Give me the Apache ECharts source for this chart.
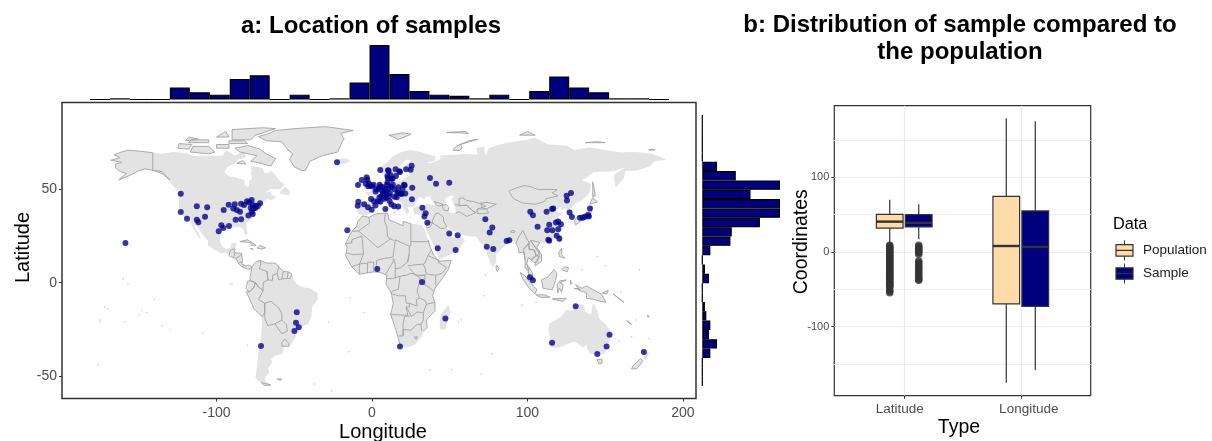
<!DOCTYPE html>
<html><head><meta charset="utf-8">
<style>html,body{margin:0;padding:0;background:#fff}#c{width:1212px;height:441px}</style>
<script src="https://cdn.jsdelivr.net/npm/echarts@6/dist/echarts.min.js"></script>
</head><body><div id="c"></div>
<script>
// ---------- data: land (lon, lat) ----------
const northAmerica=[[-168,65.6],[-164,66.5],[-162,67],[-166,68.5],[-163,69.5],[-157,71],[-150,70.5],[-141,69.6],[-135,69],[-128,70],[-120,69.5],[-115,68],[-108,68],[-100,68],[-96,68],[-94,71],[-90,69],[-88,68],[-85,69.5],[-82,69.5],[-81,67],[-86,66],[-88,64],[-93,62],[-95,59],[-92,57],[-88,56.5],[-85,55.5],[-82,55],[-82,52.5],[-80,51.3],[-79,52],[-79,54.5],[-77,56],[-78,58.5],[-77.5,60],[-78,62.5],[-73,62],[-70,61],[-69.5,59],[-67,58.5],[-65,60],[-62,57.5],[-60,55],[-56,52.5],[-59,50],[-65,50.2],[-69,48],[-65,49],[-64.5,47],[-61,46],[-64,44.5],[-66,44],[-67,45],[-70,43.5],[-70,41.7],[-74,40.5],[-75.5,38],[-76,35],[-78,33.8],[-81,31.5],[-80.2,27],[-80.4,25.2],[-81.8,26],[-83,29],[-85,29.7],[-89,30],[-90,29],[-94,29.5],[-97,28],[-97.5,25],[-97.8,22],[-96,19],[-94,18],[-91,18.7],[-90.5,21],[-87,21.5],[-88,18],[-88.8,16],[-84,15.8],[-83.3,12],[-83.7,10],[-81,8.9],[-79.5,9.5],[-77.3,8.5],[-78,7.3],[-80,7.3],[-83,8.2],[-85.5,10],[-87.5,13],[-91,14],[-94,16],[-97,15.8],[-101,17.5],[-105.5,20],[-105.5,22.5],[-109,26],[-112.5,30],[-114.7,31.5],[-112,27],[-109.5,23],[-112,25],[-115,29],[-117,32.5],[-120.5,34.5],[-122.5,37.5],[-124.3,40.5],[-124,46],[-124.7,48.4],[-122.5,49],[-127,51],[-130.5,54.5],[-134,58],[-140,60],[-146,61],[-150,60],[-152,59],[-157,57],[-163,55],[-158,58.5],[-162,59.5],[-165,61.5],[-165,63.5],[-161,64.5]];
const southAmerica=[[-77.3,8.5],[-75,11],[-72,12],[-70,11.5],[-68,10.5],[-62,10.5],[-60,8.5],[-57,6],[-52,5],[-50,1],[-48,-1],[-44,-2.5],[-40,-3],[-35,-5.5],[-35,-9],[-38.5,-13],[-39,-18],[-41,-22],[-45,-23.5],[-48.5,-26],[-49,-29],[-53,-34],[-57,-34.5],[-57,-36.5],[-58,-38.3],[-62,-39],[-65,-41],[-64,-42.5],[-67,-46],[-66,-48],[-69,-51],[-68.5,-52.5],[-65,-55],[-70,-55],[-75,-51],[-74,-45],[-73,-37],[-71.5,-30],[-70.5,-20],[-72,-17],[-76,-14],[-79,-8],[-81,-5],[-80,-2.5],[-80,0.8],[-78,3],[-77.5,7]];
const africa=[[-6,35.8],[-2,35],[3,37],[10,37.3],[11,33.5],[15,32.3],[20,30.5],[20,32.8],[25,31.6],[32,31],[34,28],[36,23],[37.5,19],[39.5,15],[43,11.5],[51,12],[49,7],[45,2],[40.5,-3],[39,-7],[40.5,-11],[40.5,-15],[35,-20],[35.5,-24],[32.8,-26],[32,-29],[28,-33],[25,-34],[20,-34.8],[18.3,-34],[17,-30],[14.5,-23],[12,-17],[13.7,-11],[12.2,-5],[9,-1],[9.5,4],[5,5.5],[1,5.8],[-4,5.2],[-8,4.5],[-13,8.5],[-17,14.5],[-16,19],[-17,21],[-13,27.5],[-10,30],[-9,33]];
const eurasia=[[-9,37],[-9.5,38.7],[-9,43],[-2,43.5],[-1,46],[-4.5,48.4],[-1.5,48.7],[2,51],[4.5,52.5],[8,54],[8.5,57],[10.5,57.5],[10,54.5],[14,54],[19,54.5],[21,56],[24,57.5],[24,59.3],[29,60],[23,60],[21.5,61],[21.5,63],[25,65.3],[22,65.8],[18,62.5],[17,60.5],[18.5,59.5],[16.5,56.5],[14,55.5],[12.7,56],[11,59],[8,58],[5.5,59],[5,62],[10,64.5],[14,68],[19,70],[25,71],[31,70],[41,67.5],[40,65],[35,64.5],[37,64],[40,64.7],[44,66.2],[44,68.3],[54,68.5],[60,69],[68,68.5],[67,72],[72,73],[73,68],[75,72],[80,73.5],[87,75],[100,76.5],[105,77.7],[113,74],[125,73.5],[130,71],[140,72.5],[150,71],[160,69.7],[170,70],[180,69],[189.5,66],[182,65],[179,62.5],[170,60],[163,59.8],[162,56],[156.8,51],[155.5,56],[156,58],[163,62],[155,59.5],[143,59.3],[135,54.7],[141,53],[140,48],[135,44],[130.7,42.5],[127.5,39.5],[129.3,37],[129,35.2],[126.5,34.5],[126.7,37.5],[125,38],[125,39.7],[121.5,39],[122,40.5],[118,39],[120,37.5],[122.5,37],[119.5,35],[121.8,31],[122,29],[119.5,25.5],[116.5,23],[113,22],[110,21],[108,21.5],[106,19],[109,15],[109,11.5],[105,9],[105,10.5],[102,12.5],[100.5,13.5],[99.5,10],[103,5.5],[104,1.5],[101,3],[98.3,8],[98.5,12],[97.5,16.5],[94.5,16],[94,19],[91.5,22.5],[89,22],[87,21],[85,19.5],[80,15.5],[80,11],[77.5,8],[74.5,14],[72.8,20],[70,21],[69,22.5],[67,24.8],[62,25],[57,25.5],[56.5,27],[51,28],[48.7,30],[48,29.5],[50,26.5],[51.5,24.5],[54,24],[56.3,26],[59.8,22.5],[55,17],[45,13],[43,13],[39,21],[35,28],[34.5,31],[36,35.5],[36,36.8],[30.5,36.3],[27,37],[26.3,40],[29,41],[31,41],[35,42],[41,41.5],[38,44.5],[37.5,46.5],[35,46],[33.5,44.5],[30.5,46],[28,43],[28,41.5],[26,40.8],[23,40.3],[24,38],[22.5,36.5],[19.5,41],[19,42.5],[13.7,45.7],[12.3,44.5],[16,41.8],[18.5,40],[16,38],[15.8,40],[12,42],[8.8,44.3],[4,43.4],[3,42],[0,39.5],[-0.5,38],[-2,36.7],[-5.5,36]];
const australia=[[114,-22],[113.5,-26],[115,-31],[115,-34.3],[118,-35],[123.5,-33.8],[129,-31.6],[132,-32],[135.5,-34.8],[138,-33],[138.5,-35.5],[140.5,-38],[144,-38.5],[146.5,-39],[150,-37.5],[151,-34],[153,-31],[153.5,-26],[150.5,-22.5],[146,-19],[145,-15],[142.5,-10.8],[141.5,-13],[141,-17],[137,-15.5],[136.5,-12],[132.5,-11.5],[130,-13],[129,-15],[125,-14.5],[122,-18],[117,-20.5]];
const greenland=[[-73,78.2],[-68,76],[-58,75.5],[-54,71],[-51,69],[-53,66],[-50,62],[-45,60],[-43,60],[-40,65],[-32,68],[-22,70],[-20,74],[-18,77],[-20,80],[-12,81.5],[-30,83.6],[-50,82.5],[-62,81.5],[-66,80]];
const madagascar=[[49.3,-12],[50.5,-16],[47,-25],[44,-25],[43.5,-21],[44.5,-16.5]];
const iceland=[[-24,65.5],[-22,64],[-18,63.4],[-14,65],[-16,66.5],[-22,66.3]];
const britain=[[-5.5,50],[1,51.2],[1.7,52.7],[0,53.5],[-2,56],[-2,57.7],[-5,58.6],[-6,56],[-3,54],[-5,52]];
const ireland=[[-10,52],[-6,52.2],[-6,55],[-10,54.2]];
const northIslandNZ=[[172.7,-34.5],[175.5,-37],[178.5,-37.7],[176,-41.5],[174.8,-41],[175,-39],[174,-39]];
const smallLand=[[[12.5,38],[15.5,38.2],[15,36.7]],[[8.3,41],[9.7,41],[9.5,39],[8.5,39]],[[8.7,43],[9.5,43],[9.3,41.5]],[[23.5,35.5],[26.3,35.2],[24.5,34.9]],[[32.5,35],[34.5,35.6],[33.5,34.7]],[[-156,21],[-154.9,19.6],[-156,19]],[[-59,47.7],[-53,46.7],[-53,49],[-56,51.5],[-59,48.8]],[[-128,50.5],[-124,48.5],[-125,50]],[[108.7,19.2],[110.5,20],[110,18.3]]];
const arcticIslands=[[[-80,73.5],[-72,71.5],[-68,69],[-62,66.5],[-65,62.5],[-72,64],[-78,65],[-74,68],[-85,70],[-88,72]],[[-117,70],[-105,69],[-101,70],[-105,73],[-115,73]],[[-90,76.5],[-78,76.5],[-75,79],[-62,82.5],[-70,83],[-90,82]],[[-125,72],[-118,71.5],[-116,74],[-124,74.5]],[[-92,74.5],[-80,74.5],[-82,76],[-92,76]],[[-118,75],[-105,75],[-105,76.5],[-116,76.5]],[[-100,72],[-92,72],[-92,74],[-100,74]],[[-87,64],[-81,63.5],[-83,65.5]],[[11,79],[20,80.3],[25,79.5],[17,76.7]],[[52,71],[56,70.7],[58,72],[57,74],[68,76.8],[62,76],[54,73]],[[48,80.5],[60,81],[62,80]],[[95,79],[105,79],[100,81]],[[137,75],[145,75.5],[150,75]],[[178,71],[182,71],[180,71.5]],[[-120,76],[-112,77],[-118,78]],[[-100,78],[-92,78],[-94,81]]];
const eastIslands=[[[142,54],[143,50],[143.5,46.5],[142,46],[142,50]],[[130,33],[131,31],[135,33.5],[140,35],[141,38],[141.5,41],[140,40],[139,38],[136,36.5],[132,35.3]],[[140,42],[142,42.5],[145,43.3],[142,45.5]],[[120,23],[121,22],[122,25],[121,25.2]],[[80,9.5],[81.8,7.5],[80.5,6],[79.8,8]],[[120,16],[122,18.5],[122,15],[124,13],[120.5,14]],[[122,7],[125.5,5.8],[126.5,8],[124,8.5]],[[109,1.5],[113,3],[117,7],[119,5],[118,1],[116,-3.8],[110,-3]],[[95.3,5.5],[98,4],[104,-2],[106,-3.5],[105,-6],[101,-3],[97,2]],[[105.5,-6.5],[111,-6.5],[114.5,-7.8],[108,-7.8]],[[119.5,-5.5],[119,-1],[121,1],[125,1.5],[121,0],[123,-1],[122,-5],[120.5,-3]],[[131,-1],[135,-3],[138,-1.7],[145,-5],[147.5,-6],[150.5,-10.5],[147,-10],[143,-9],[138,-8.3],[138,-5.5],[133,-4]],[[144.7,-41],[148,-41],[148,-43],[146,-43.5]],[[172.7,-40.7],[174.3,-41.7],[170.5,-46],[167,-46.2],[168,-44.3]],[[116,-8.5],[119,-8.5],[125,-8.3],[123,-10],[117,-9]],[[148,-5.5],[152,-4],[151,-6]],[[155,-6],[160,-9],[162,-10.5],[158,-8]],[[164,-20.2],[167,-22.3],[165.5,-21.8]],[[177,-17.5],[178.5,-18],[177.5,-18.5]],[[127.5,1.5],[128.5,0],[127.8,-1]],[[130,-3],[134,-3.5],[131,-3.3]],[[-85,22],[-80,23],[-74.5,20],[-77.5,20],[-78,21.5]],[[-74,18.5],[-72,20],[-68.5,18.7],[-71,18]],[[-78.3,18.4],[-76.3,18],[-77,17.8]],[[-61,-51.5],[-58,-51.5],[-59,-52.3]],[[-71,-53.5],[-65,-54.8],[-69,-55]]];
const caspian=[[47,45],[51,47],[53,46],[51,44.5],[53,42],[54,37.5],[50,37.3],[49,40],[47.5,43]];
// ---------- data: drawn borders (lon, lat) ----------
const alaskaLine=[[-141,69.6],[-150,70.5],[-157,71],[-163,69.5],[-166,68.5],[-162,67],[-164,66.5],[-168,65.6],[-161,64.5],[-165,63.5],[-165,61.5],[-162,59.5],[-158,58.5],[-163,55],[-157,57],[-152,59],[-150,60],[-146,61],[-140,60],[-134,58],[-130,55],[-135,59.5],[-141,60.2],[-141,69.6]];
const centralAmericaLine=[[-92,14.5],[-91,17.5],[-89,18],[-88,18],[-88.8,16],[-84,15.8],[-83.3,12],[-83.7,10],[-81,8.9],[-79.5,9.5],[-77.3,8.5],[-78,7.3],[-80,7.3],[-83,8.2],[-85.5,10],[-87.5,13],[-91,14],[-92,14.5]];
const centralAmericaBorders=[[[-89,14],[-88,16]],[[-87.5,13],[-84,15]],[[-85.5,11],[-83.7,11]],[[-83,8.2],[-82.7,9.5]]];
const southAmericaCountries=[[[-77.3,8.5],[-75,11],[-72,12],[-71.5,10],[-72.5,7.5],[-67.5,6],[-67,1.5],[-70,0],[-70,-4.2],[-73,-2.3],[-75,0],[-78,1],[-78.5,2.5],[-77.5,7],[-77.3,8.5]],[[-72,12],[-68,10.5],[-62,10.5],[-60,8.5],[-61,5],[-64,4],[-64,1.3],[-67,1.5],[-67.5,6]],[[-60,8.5],[-57,6],[-58,2],[-60,1.5],[-61,5]],[[-57,6],[-54,5.8],[-54.5,2.3],[-58,2]],[[-54,5.8],[-52,5],[-51.7,4],[-52.8,2.2],[-54.5,2.3]],[[-80,0.8],[-78,1],[-75,0],[-76,-2.5],[-79,-5],[-81,-3],[-80,0.8]],[[-81,-5],[-79,-5],[-76,-2.5],[-75,0],[-73,-2.3],[-70,-4.2],[-73,-9],[-69,-11],[-69,-16],[-70.5,-18],[-72,-17],[-76,-14],[-79,-8],[-81,-5]],[[-69,-11],[-65,-10],[-60,-13.5],[-58,-16.5],[-58,-20],[-62.5,-22],[-67,-23],[-69,-19],[-69,-16],[-69,-11]],[[-58,-20],[-55,-22.5],[-54.5,-26],[-58,-27.3],[-62.5,-22]],[[-58,-34],[-53.5,-34],[-53.5,-32.5],[-56,-30.2],[-58,-32],[-58,-34]]];
const africaCoastLine=[[18.3,-34],[17,-30],[14.5,-23],[12,-17],[13.7,-11],[12.2,-5],[9,-1],[9.5,4],[5,5.5],[1,5.8],[-4,5.2],[-8,4.5],[-13,8.5],[-17,14.5],[-16,19],[-17,21],[-13,27.5],[-10,30],[-9,33],[-6,35.8],[-2,35],[3,37],[10,37.3],[11,33.5],[15,32.3],[20,30.5],[20,32.8],[25,31.6]];
const africaEastCoast=[[36,23],[37.5,19],[39.5,15],[43,11.5],[51,12],[49,7],[45,2],[40.5,-3],[39,-7],[40.5,-11],[40.5,-15],[35,-20],[35.5,-24],[32.8,-26]];
const africaBorders=[[[-2,35],[-1.5,32],[-8.7,27.7],[-13,27.5]],[[8.5,37],[8,33],[9.5,30],[10,24.5],[12,23.5],[14,22.6]],[[25,31.6],[25,20],[24,19.5],[24,15.5],[23,11]],[[25,22],[37,22]],[[-8.7,27.7],[-4.8,25],[3.3,19],[4.2,19],[12,23.5]],[[-17,21],[-13,21.3],[-13,23],[-6.5,25],[-5.5,15.5],[-12,15],[-16.5,16]],[[3,12],[8,13],[13.5,13.7],[15,23]],[[15,23],[24,19.5]],[[13.5,13],[15,10],[15,7.5],[18.5,8],[22.8,11],[24,15.5]],[[23,9],[27,9.5],[33,10],[34,10.5],[36,14.5],[38.5,18]],[[24,8],[28,4],[34,4],[35,5],[34,8],[33,10]],[[36,14.5],[43,12],[42.5,11],[48,8],[45,5],[41,4],[36,4.5],[35,5]],[[41,4],[41,-1.5]],[[34,-1],[37.5,-3],[39.5,-4.7]],[[30,-1],[34,-1],[34,4],[31,3.7]],[[12.2,-6],[13,-4.5],[17,-3.5],[18,3.5],[22,4],[25,5],[28,4.5],[31,2.5],[30,-1],[29,-4.5],[30.5,-8.3],[28.5,-9],[29,-12.5],[24,-11],[22,-11],[21.5,-7],[17,-7],[13,-6]],[[12,-17],[23,-17.5],[22,-13],[24,-13],[24,-11]],[[20,-28.5],[20,-22],[21,-18],[25,-17.8]],[[17,-28.5],[20,-28.5],[20,-25],[25,-25.5],[29,-22.3],[31.5,-22.3],[32,-26]],[[25.5,-18],[29,-15.7],[33,-16],[33,-20],[31.5,-22.3]],[[33,-16],[35,-11.5],[40.5,-10.5]],[[30.5,-8.3],[34,-9.5],[35,-11.5]],[[22,-13],[25.5,-18]],[[2.7,6.3],[3,12]],[[8.7,4.5],[14.5,12.5]],[[-3,5],[-2.8,11],[1,11],[1,6]],[[-8,4.5],[-8,10],[-5,10.5],[-3,10]],[[-13,8.5],[-10,9.5],[-8,10],[-5.5,15.5]],[[9.5,2.2],[13,2.2],[18,3.5]],[[15,7.5],[15,2.2]],[[27,-29],[29.3,-29],[28.5,-30.5],[27,-29]]];
const asiaCountries=[[[88,49],[92,50.5],[98,52],[102,51.5],[107,49.8],[114,50],[119,49.8],[116,48],[119.5,46.5],[112,45],[111,43.5],[105,42],[97,42.7],[91,45],[88,49]],[[56,45],[58.5,45.5],[61,44],[65,43.5],[71,42],[73,41],[68,39.5],[66.5,37.5],[64,39],[61,41.5],[56,41.3],[56,45]],[[53,42],[56,41.3],[61,41.5],[64,39],[66.5,37.5],[61,35.5],[56,38],[53.8,37.3]],[[70,42.7],[74,43],[80,42],[73.5,39.5],[71,40],[70,42.7]],[[68,39.5],[73.5,39.5],[75,37.3],[71,37],[68,37],[68,39.5]],[[40,43.5],[46,41.8],[43,41],[41.5,41.5],[40,43.5]],[[45,41.3],[48,41.8],[49.5,40.3],[48.8,38.5],[46,39],[45,41.3]],[[38.8,33.4],[41,37],[42.5,37.3],[46,35],[46,33],[48,30.2],[46.5,29],[44,29.2],[39,32],[38.8,33.4]],[[92.5,21],[94,24],[97,28],[98.7,25],[101,21.5],[97.5,18],[98.5,12],[97.5,16.5],[94.5,16],[94,19],[92.5,21]],[[101,21.5],[102,22.5],[105,19],[107.5,16],[106.5,14.5],[105.5,14.5],[104.5,17.5],[101,18],[101,21.5]],[[97.5,18],[101,21],[101,18],[104.5,17.5],[105.5,14.5],[102,12.5],[100.5,13.5],[99.5,10],[101,6.5],[98.5,8],[98.5,12]],[[102.5,12],[105.5,14.5],[107.5,14],[106,11],[105,10.5],[102.5,12]],[[104,22.5],[108,21.5],[106,19],[109,15],[109,11.5],[105,9],[105,10.5],[107.5,14],[107.5,16],[105,19],[102,22.5],[104,22.5]],[[88.8,27.2],[90,28],[92,27.6],[91.5,26.8],[88.8,27.2]],[[99.5,10],[103,5.5],[104,1.5],[101,3],[100.5,6.4]],[[34.5,31],[36,32.5],[39,32],[37,29.5],[35,29.5]]];
// ---------- data: sample locations (lon, lat) ----------
const sampleNorthAmerica=[[-123,47.7],[-123,37.8],[-119,34.2],[-112.7,40.9],[-106,40.4],[-112.7,33.7],[-111.7,32.4],[-107.4,35.3],[-95.4,39],[-92.2,41.8],[-88.3,42],[-89.2,39.8],[-87,38.9],[-84.9,38],[-84.2,42.3],[-82.3,41.6],[-80.4,43.6],[-77.4,44.3],[-76.7,41.6],[-72,42.5],[-74.6,41.2],[-76.3,39.8],[-77.4,38],[-76.7,36.8],[-79.5,36],[-87.7,33.7],[-84.2,34],[-96.9,30.8],[-95.6,29.3],[-92,30.4],[-98.6,27.6],[-158.6,21.2],[-75,40],[-73.5,41],[-78,40],[-79,43]];
const sampleEurope=[[-22.5,64.5],[-15.9,28.1],[-9,52.3],[-6.6,55],[-3.4,56.4],[-2.4,51.7],[-8.8,43.4],[-9.2,41.2],[-5.1,42],[-2.6,40.4],[-0.2,39.1],[10.3,60.2],[15.2,60.7],[17.6,59.7],[9.9,57.1],[12.6,55.7],[15.4,57.1],[25.5,62.6],[21.9,60.7],[24.9,60.5],[37.3,56.1],[41.2,53],[49.7,53.5],[20.6,52.5],[25.9,50.9],[19.7,50.3],[18.5,47.8],[21.4,47.8],[25.7,44.7],[16.9,40.8],[8.6,39.5],[-2,53],[-1,52],[0,51.5],[1,52.5],[-3,55],[-4,53],[2.3,48.9],[4.4,50.8],[4.9,52.4],[5.5,51.4],[6.1,49.6],[6.8,51.2],[8.5,50],[9.2,48.7],[8.5,47.4],[7.5,47],[6.1,46.2],[4.8,45.8],[1.4,43.6],[-0.6,44.8],[3.9,43.6],[5.4,43.3],[7.7,45],[9.2,45.5],[11.3,43.8],[11.5,48.1],[13.4,52.5],[10,53.6],[9.7,52.4],[12.4,51.3],[14.4,50.1],[16.4,48.2],[17.1,48.1],[19,47.5],[14.5,46],[15.9,45.8],[12.5,41.9],[14.3,40.9],[21,52.2],[17,51.1],[13.2,55.7],[18,59.3],[11.9,57.7],[10.7,59.9],[10.2,56.1],[5.3,60.4],[2.2,41.4],[7,48],[3,50],[10.5,50.5],[11,46.5]];
const sampleAsia=[[32.4,40.2],[34.5,37.2],[33.7,35.4],[35.6,32.1],[49.7,26.4],[55.1,25.4],[42.3,18.4],[53.8,17.5],[72.9,34],[77.4,29.5],[75.7,26.9],[73.8,19.2],[78,18],[86.6,22.4],[88.3,22.8],[101.8,38],[103.5,36.1],[112.3,38],[115.8,39.5],[116.6,39.8],[125.2,46.6],[128,48.1],[125.4,44],[127.1,37.6],[128.6,35.2],[140.2,39.8],[139.1,36.2],[137,35.3],[133.8,34.8],[135.5,34.8],[139.5,35.5],[106.5,30],[114,31],[112.7,28.1],[116,28.1],[119.8,28.6],[118.3,32.2],[119.8,32.8],[121.5,31.3],[118.8,25.1],[120.5,23.5],[113.4,23],[114,22.5],[101.6,2.9],[103.5,1.3]];
const sampleSouth=[[32.2,0.4],[47.2,-19.1],[18,-34.2],[131,-12.6],[115.8,-32.2],[152.8,-27.8],[150.9,-34.2],[144.9,-38.2],[174.9,-37.1],[-48.4,-15.8],[-48.9,-21.4],[-47.1,-23.8],[-49.9,-25.8],[-71.4,-33.9],[3.4,7.4]];
const islets=[[-160,2],[-157,-1],[-172,-13],[-175,-20],[-170,-14],[-150,-17],[-148,-15],[-145,-16],[-140,-9],[-135,-23],[-130,-25],[-109,-27],[-91,-0.5],[-90,-1],[-80,-33.5],[-28,-21],[-37,-54.3],[-26,-58],[-15,-37],[-5,-16],[-14,-8],[70,-49],[51,-46.5],[37,-46.8],[77.5,-38],[57.5,-20],[55.5,-21],[72,-7],[73,4],[105.5,-10.5],[96.8,-12.2],[167,-29],[159,-31.5],[178,-30],[160,-5],[150,9],[145,14],[135,7],[172,7],[170,-20],[-175,-21],[-176,-44],[-159,-21]];
// ---------- data: histograms ----------
const lonHistCounts=[0,1,0,0,10,6,4,17,20,0,4,0,1,14,45,21,7,4,3,1,4,0,7,19,10,6,1,1,0];
const lonHistBins=lonHistCounts.map((_,i)=>'b'+i);
const latHistCounts=[0,0,0,0,0,11,25,58,36,58,58,43,22,21,6,0,2,5,0,0,2,3,6,5,11,6,0,0,0];
const latHistBins=latHistCounts.map((_,i)=>'b'+i);
// ---------- data: boxplots ----------
const boxCategories=['Latitude','Longitude'];
const populationBoxes=[[1,11,32,40.6,50.4,70],[2,-175,-69.6,8,74.5,179]];
const sampleBoxes=[[1,17,33.5,39,50,64],[2,-158,-72.8,6.7,55,175]];
const populationLatOutliers=[9,7.5,6,4.5,3,1.5,0,-1.5,-3,-4.5,-6,-7.5,-9,-10.5,-12,-13.5,-15,-16.5,-18,-19.5,-21,-22.5,-24,-25.5,-27,-28.5,-30,-31.5,-33,-34.5,-36,-37.5,-39,-40.5,-42,-43.5,-45,-46,-47,-51,-52.5,-54.5];
const sampleLatOutliers=[9,7,5,3,1,-1,-3,-12,-14,-16,-19,-21,-23,-26,-28,-30,-33,-35,-37,-38];
const fills={land:'#e3e3e3',line:'#a3a3a3',navy:'#00007f',wheat:'#fddcaa',ink:'#333333',text:'#4d4d4d'};
const font='"Liberation Sans",Arial,sans-serif';

const allFill=[northAmerica,southAmerica,africa,eurasia,australia,greenland,madagascar,iceland,britain,ireland,northIslandNZ,...smallLand,...arcticIslands,...eastIslands];
const allLines=[alaskaLine,centralAmericaLine,...centralAmericaBorders,...southAmericaCountries,africaCoastLine,africaEastCoast,...africaBorders,...asiaCountries,...arcticIslands,...eastIslands,[...greenland,greenland[0]]];

function polyData(list){return list.map(p=>p[0]);}
function polyFill(list,color){return function(params,api){
  return {type:'polygon',shape:{points:list[params.dataIndex].map(c=>api.coord(c))},style:{fill:color,stroke:null},silent:true};};}
function polyLine(list){return function(params,api){
  const l=list[params.dataIndex];
  const isIsland=arcticIslands.includes(l)||eastIslands.includes(l);
  return {type:'polyline',shape:{points:(isIsland?l.concat([l[0]]):l).map(c=>api.coord(c))},style:{fill:null,stroke:fills.line,lineWidth:0.9},silent:true};};}
function boxItem(color){return function(params,api){
  const x=api.value(0),off=color===fills.wheat?-0.1244:0.1244,half=0.1145;
  const c=x+off, L=api.coord([c-half,0])[0],R=api.coord([c+half,0])[0],M=api.coord([c,0])[0];
  const lo=api.coord([c,api.value(1)])[1],q1=api.coord([c,api.value(2)])[1],med=api.coord([c,api.value(3)])[1],q3=api.coord([c,api.value(4)])[1],hi=api.coord([c,api.value(5)])[1];
  const st={stroke:fills.ink,lineWidth:1.2,fill:null};
  return {type:'group',children:[
    {type:'line',shape:{x1:M,y1:hi,x2:M,y2:q3},style:st},
    {type:'line',shape:{x1:M,y1:q1,x2:M,y2:lo},style:st},
    {type:'rect',shape:{x:L,y:q3,width:R-L,height:q1-q3},style:{fill:color,stroke:fills.ink,lineWidth:1.2}},
    {type:'line',shape:{x1:L,y1:med,x2:R,y2:med},style:{stroke:fills.ink,lineWidth:2.4}}
  ]};};}
function legendKey(y,color){return [
  {type:'line',silent:true,shape:{x1:1124.5,y1:y-10,x2:1124.5,y2:y+10},style:{stroke:fills.ink,lineWidth:1}},
  {type:'rect',silent:true,shape:{x:1116,y:y-5.7,width:17,height:11.4},style:{fill:color,stroke:fills.ink,lineWidth:1.2}},
  {type:'line',silent:true,shape:{x1:1116,y1:y,x2:1133,y2:y},style:{stroke:fills.ink,lineWidth:1.2}}];}

const chart=echarts.init(document.getElementById('c'),null,{renderer:'canvas'});
chart.setOption({animation:false,backgroundColor:'#fff',textStyle:{fontFamily:font},
 title:[
  {text:'a: Location of samples',left:366,top:9,textAlign:'center',textStyle:{fontSize:24,fontWeight:'bold',color:'#000',fontFamily:font}},
  {text:'b: Distribution of sample compared to\nthe population',left:955,top:7,textAlign:'center',textStyle:{fontSize:24,fontWeight:'bold',color:'#000',lineHeight:27,fontFamily:font}}
 ],
 grid:[
  {left:62,top:102.5,width:634,height:296,show:true,borderColor:fills.ink,borderWidth:1.5,backgroundColor:'#fff',outerBoundsMode:'none'},
  {left:90,top:45,width:579,height:54.5,outerBoundsMode:'none'},
  {left:702.3,top:115,width:77.7,height:271,outerBoundsMode:'none'},
  {left:834.3,top:105.7,width:256.4,height:290,show:true,borderColor:fills.ink,borderWidth:1.2,backgroundColor:'#fff',outerBoundsMode:'none'}
 ],
 xAxis:[
  {gridIndex:0,type:'value',min:-199.4,max:208.4,name:'Longitude',nameLocation:'middle',nameMoveOverlap:false,nameGap:24,nameTextStyle:{fontSize:20,color:'#000',padding:[0,0,0,8]},
   axisLine:{show:false,onZero:false},axisTick:{show:true,length:3,customValues:[-100,0,100,200],lineStyle:{color:fills.ink}},
   axisLabel:{customValues:[-100,0,100,200],fontSize:14,color:fills.text,margin:8,formatter:v=>String(v)},splitLine:{show:false}},
  {gridIndex:1,type:'category',data:lonHistBins,show:false},
  {gridIndex:2,type:'value',min:0,max:58,show:false},
  {gridIndex:3,type:'value',min:0.4,max:2.6,name:'Type',nameLocation:'middle',nameMoveOverlap:false,nameGap:22,nameTextStyle:{fontSize:19.5,color:'#000',padding:[0,7,0,0]},
   axisLine:{show:false,onZero:false},axisTick:{show:true,length:3,customValues:[1,2],lineStyle:{color:fills.ink}},
   axisLabel:{customValues:[1,2],fontSize:13.5,color:fills.text,margin:7,
     formatter:v=>v===1?'{a|'+boxCategories[0]+'}':'{b|'+boxCategories[1]+'}',
     rich:{a:{fontSize:13.5,color:fills.text,padding:[0,9,0,0]},b:{fontSize:13.5,color:fills.text,padding:[0,0,0,16]}}},
   splitLine:{show:true,lineStyle:{color:'#ebebeb',width:1.2}}}
 ],
 yAxis:[
  {gridIndex:0,type:'value',min:-62,max:96.5,name:'Latitude',nameLocation:'middle',nameMoveOverlap:false,nameGap:29,nameTextStyle:{fontSize:20,color:'#000',padding:[0,0,0,6]},
   axisLine:{show:false,onZero:false},axisTick:{show:true,length:3,customValues:[-50,0,50],lineStyle:{color:fills.ink}},
   axisLabel:{customValues:[-50,0,50],fontSize:14,color:fills.text,margin:5,formatter:v=>String(v)},splitLine:{show:false}},
  {gridIndex:1,type:'value',min:0,max:45,show:false},
  {gridIndex:2,type:'category',inverse:true,data:latHistBins,show:false},
  {gridIndex:3,type:'value',min:-192.4,max:195.8,name:'Coordinates',nameLocation:'middle',nameMoveOverlap:false,nameGap:23,nameTextStyle:{fontSize:19.5,color:'#000',padding:[0,0,0,18]},
   axisLine:{show:false,onZero:false},axisTick:{show:true,length:3,customValues:[-100,0,100],lineStyle:{color:fills.ink}},
   axisLabel:{customValues:[-100,0,100],fontSize:11,color:fills.text,margin:5,formatter:v=>String(v)},
   splitLine:{show:true,lineStyle:{color:'#ebebeb',width:1.2}}},
  {gridIndex:3,type:'value',min:-192.4,max:195.8,
   axisLine:{show:false,onZero:false},axisTick:{show:false,customValues:[-150,-50,50,150]},axisLabel:{show:false,customValues:[-150,-50,50,150]},
   splitLine:{show:true,lineStyle:{color:'#f0f0f0',width:1}}}
 ],
 series:[
  {type:'custom',name:'Land',xAxisIndex:0,yAxisIndex:0,data:polyData(allFill),renderItem:polyFill(allFill,fills.land),z:2,clip:true,silent:true},
  {type:'custom',name:'Caspian',xAxisIndex:0,yAxisIndex:0,data:polyData([caspian]),renderItem:polyFill([caspian],'#fff'),z:3,clip:true,silent:true},
  {type:'custom',name:'Borders',xAxisIndex:0,yAxisIndex:0,data:polyData(allLines),renderItem:polyLine(allLines),z:4,clip:true,silent:true},
  {type:'scatter',name:'Islets',xAxisIndex:0,yAxisIndex:0,data:islets,symbolSize:1.5,itemStyle:{color:'#b5b5b5'},z:4,silent:true},
  {type:'scatter',name:'Samples',xAxisIndex:0,yAxisIndex:0,data:[...sampleNorthAmerica,...sampleEurope,...sampleAsia,...sampleSouth],symbolSize:6,itemStyle:{color:'#00008b',opacity:.78},z:5,silent:true},
  {type:'bar',name:'Longitude histogram',xAxisIndex:1,yAxisIndex:1,data:lonHistCounts,barCategoryGap:0,itemStyle:{color:fills.navy,borderColor:'#000',borderWidth:1.2},silent:true},
  {type:'bar',name:'Latitude histogram',xAxisIndex:2,yAxisIndex:2,data:latHistCounts,barCategoryGap:0,itemStyle:{color:fills.navy,borderColor:'#000',borderWidth:1.2},silent:true},
  {type:'scatter',name:'Population outliers',xAxisIndex:3,yAxisIndex:3,data:populationLatOutliers.map(v=>[1-0.1244,v]),symbolSize:7.5,itemStyle:{color:fills.ink},z:3,silent:true},
  {type:'scatter',name:'Sample outliers',xAxisIndex:3,yAxisIndex:3,data:sampleLatOutliers.map(v=>[1+0.1244,v]),symbolSize:7.5,itemStyle:{color:fills.ink},z:3,silent:true},
  {type:'custom',name:'Population',xAxisIndex:3,yAxisIndex:3,data:populationBoxes,renderItem:boxItem(fills.wheat),z:4,silent:true},
  {type:'custom',name:'Sample',xAxisIndex:3,yAxisIndex:3,data:sampleBoxes,renderItem:boxItem(fills.navy),z:4,silent:true}
 ],
 graphic:[
  {type:'text',x:1113,y:217,silent:true,style:{text:'Data',font:'16.3px '+font,fill:'#000'}},
  ...legendKey(250.4,fills.wheat),...legendKey(273.5,fills.navy),
  {type:'text',x:1143,y:243,silent:true,style:{text:'Population',font:'13.5px '+font,fill:'#1a1a1a'}},
  {type:'text',x:1143,y:266,silent:true,style:{text:'Sample',font:'13.5px '+font,fill:'#1a1a1a'}}
 ]
});
</script></body></html>
